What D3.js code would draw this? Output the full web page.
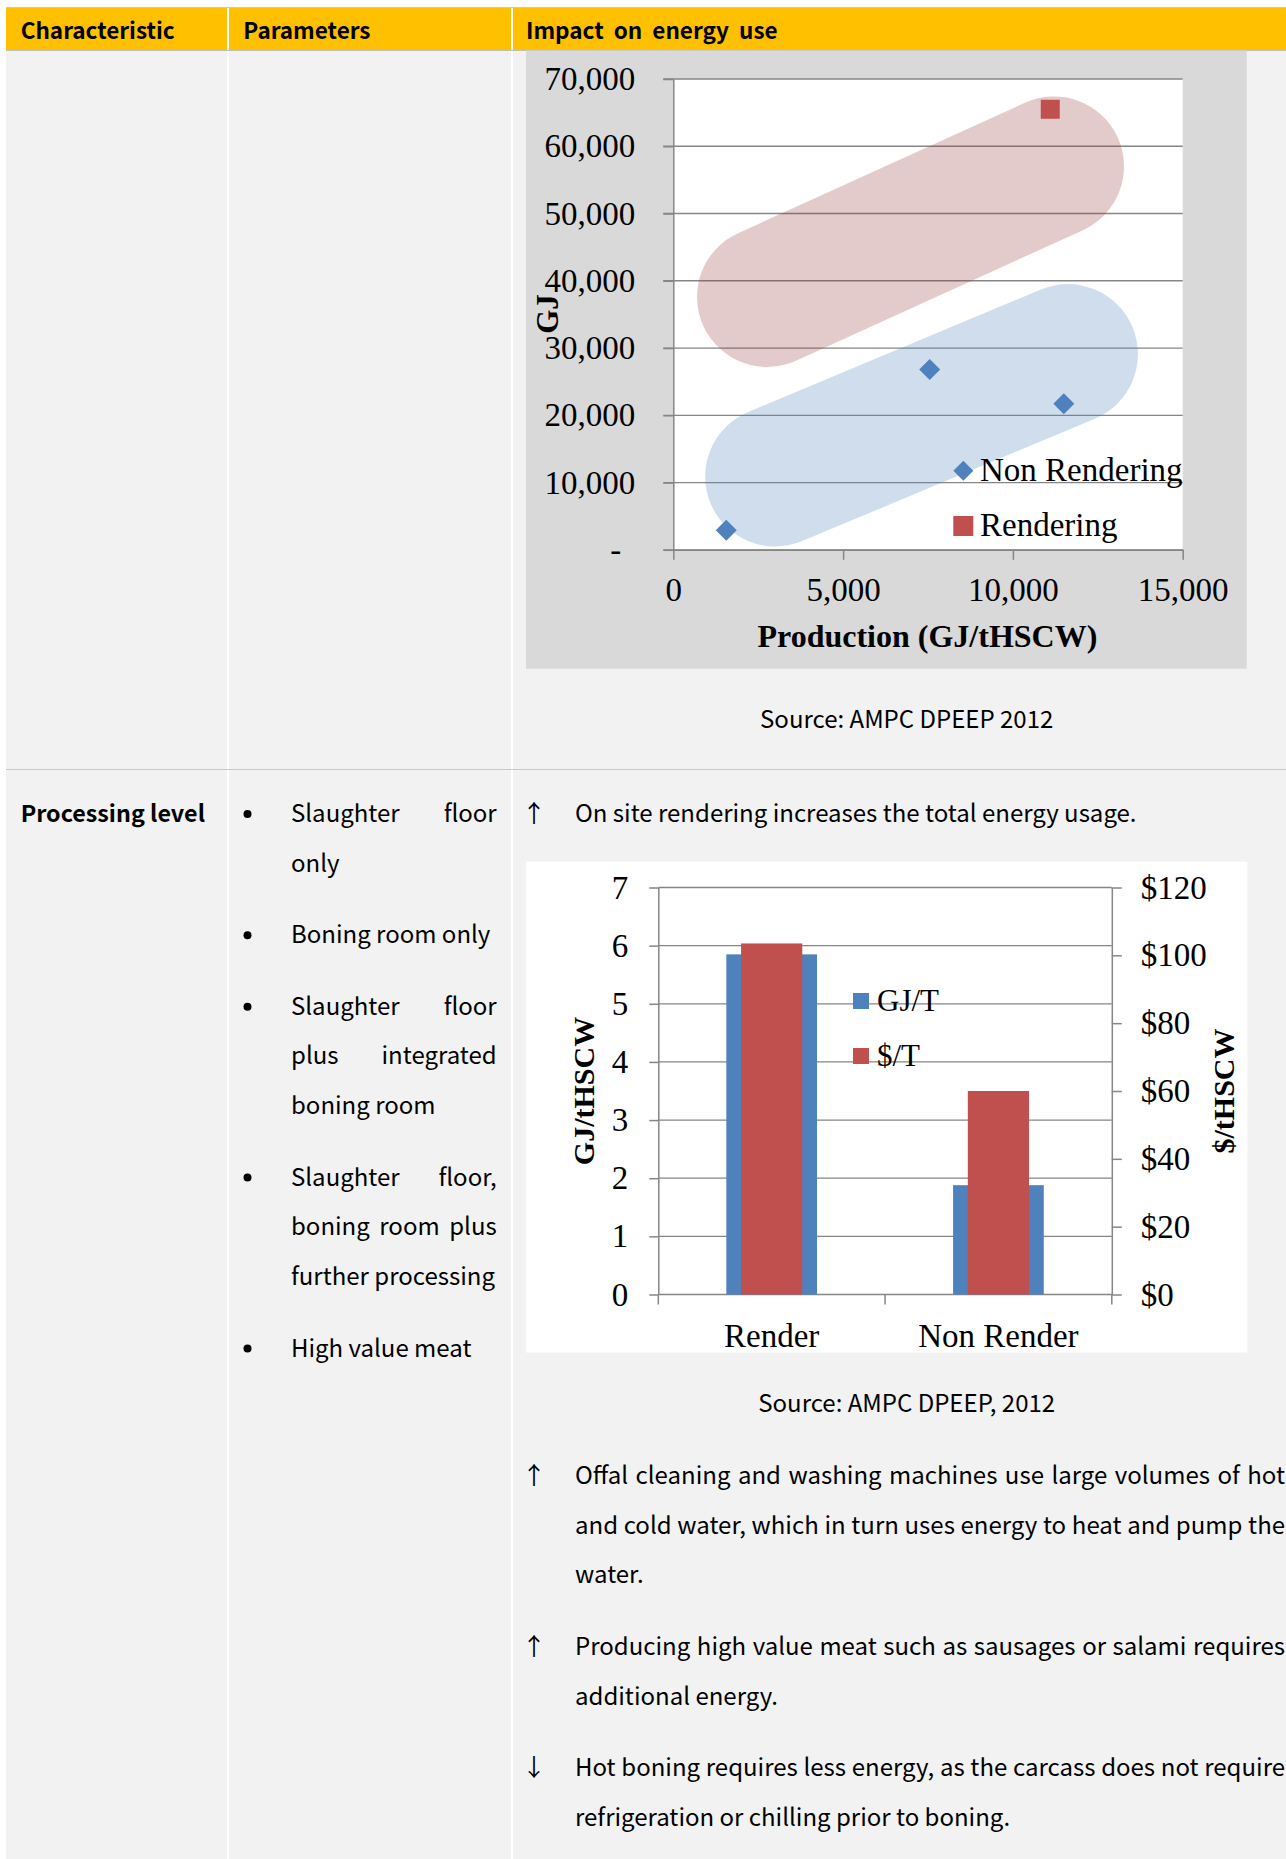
<!DOCTYPE html>
<html>
<head>
<meta charset="utf-8">
<script src="https://cdn.jsdelivr.net/npm/d3@7"></script>
<style>
  html, body { margin: 0; padding: 0; background: #ffffff; }
  svg { display: block; }
</style>
</head>
<body>
<svg id="page" width="1286" height="1859"></svg>
<script>
// ---------- table text ----------
const headerLabels = ["Characteristic", "Parameters", "Impact on energy use"];
const rowTitle = "Processing level";
const parameterParagraphs = [
  ["Slaughter floor", "only"],
  ["Boning room only"],
  ["Slaughter floor", "plus integrated", "boning room"],
  ["Slaughter floor,", "boning room plus", "further processing"],
  ["High value meat"]
];
const introArrow = "↑";
const introLine = "On site rendering increases the total energy usage.";
const impactArrows = ["↑", "↑", "↓"];
const impactParagraphs = [
  ["Offal cleaning and washing machines use large volumes of hot",
   "and cold water, which in turn uses energy to heat and pump the",
   "water."],
  ["Producing high value meat such as sausages or salami requires",
   "additional energy."],
  ["Hot boning requires less energy, as the carcass does not require",
   "refrigeration or chilling prior to boning."]
];
const scatterSource = "Source: AMPC DPEEP 2012";
const barSource = "Source: AMPC DPEEP, 2012";

// ---------- scatter: GJ vs production ----------
const scatterSeries = ["Non Rendering", "Rendering"];
const nonRenderingX = [1560, 7550, 11500];
const nonRenderingY = [2900, 26800, 21700];
const renderingX = [11100];
const renderingY = [65500];
const productionTicks = [0, 5000, 10000, 15000];
const gjTicks = [0, 10000, 20000, 30000, 40000, 50000, 60000, 70000];
// highlighted bands (end points of each band's centre line)
const renderingBandX = [2760, 11210];
const renderingBandY = [37600, 57000];
const nonRenderingBandX = [3000, 11620];
const nonRenderingBandY = [10900, 29100];

// ---------- bars: render vs non render ----------
const barCategories = ["Render", "Non Render"];
const barSeries = ["GJ/T", "$/T"];
const gjPerTonne = [5.85, 1.88];
const dollarsPerTonne = [103.5, 60];
const gjBarTicks = [0, 1, 2, 3, 4, 5, 6, 7];
const dollarTicks = [0, 20, 40, 60, 80, 100, 120];

// ---------- styles ----------
const SERIF = "'Liberation Serif', 'Times New Roman', serif";
const SANS = "'Noto Sans CJK KR', 'Noto Sans', sans-serif";
const GRID = "#868686";
const BLUE = "#4f81bd";
const RED = "#c0504d";
const BODY_SIZE = 24;
const LINE_STEP = 49.7;
const PARA_STEP = 71.5;

const svg = d3.select("#page");

// ---------- table frame ----------
const frame = svg.append("g");
frame.append("rect").attr("x", 6).attr("y", 8).attr("width", 1280).attr("height", 1851).attr("fill", "#f2f2f2");
frame.append("rect").attr("x", 6).attr("y", 8).attr("width", 1280).attr("height", 42).attr("fill", "#ffc000");
[227, 511].forEach(x => {
  frame.append("rect").attr("x", x).attr("y", 8).attr("width", 2).attr("height", 1851).attr("fill", "#ffffff");
});
[[7.5, "#c8c8c8"], [50.5, "#bfbfbf"], [769.5, "#c8c8c8"]].forEach(([y, c]) => {
  frame.append("line").attr("x1", 6).attr("x2", 1286).attr("y1", y).attr("y2", y)
    .attr("stroke", c).attr("stroke-width", 1);
});

const headerX = [20.7, 243.3, 526];
frame.append("g")
  .attr("font-family", SANS).attr("font-size", 22.5).attr("font-weight", 700).attr("fill", "#000")
  .style("word-spacing", "5px")
  .selectAll("text").data(headerLabels).join("text")
  .attr("x", (d, i) => headerX[i]).attr("y", 39.3).text(d => d);

// ---------- text helpers ----------
function placeLine(g, str, x0, y, x1, justify) {
  const words = str.split(" ");
  if (!justify || words.length < 2) {
    g.append("text").attr("x", x0).attr("y", y).text(str);
    return;
  }
  const nodes = words.map(w => g.append("text").attr("y", y).text(w));
  const widths = nodes.map(n => n.node().getComputedTextLength());
  const gap = Math.max(4, (x1 - x0 - d3.sum(widths)) / (words.length - 1));
  let x = x0;
  nodes.forEach((n, i) => { n.attr("x", x); x += widths[i] + gap; });
}

function placeParagraphs(g, paragraphs, x0, x1, y0, markerFn) {
  let y = y0;
  paragraphs.forEach((lines, p) => {
    if (markerFn) markerFn(p, y);
    lines.forEach((line, i) => {
      placeLine(g, line, x0, y + i * LINE_STEP, x1, i < lines.length - 1);
    });
    y += (lines.length - 1) * LINE_STEP + PARA_STEP;
  });
}

const body = svg.append("g").attr("font-family", SANS).attr("font-size", BODY_SIZE).attr("fill", "#000");

// row title
body.append("text").attr("x", 20.7).attr("y", 822).attr("font-weight", 700).attr("font-size", 23.3).text(rowTitle);

// parameter bullets
placeParagraphs(body, parameterParagraphs, 291, 496.7, 822, (p, y) => {
  body.append("circle").attr("cx", 247.5).attr("cy", y - 8).attr("r", 4).attr("fill", "#000");
});

// impact texts
body.append("text").attr("x", 522).attr("y", 822).text(introArrow);
placeLine(body, introLine, 575, 822, 1285, false);
placeParagraphs(body, impactParagraphs, 575, 1285, 1484, (p, y) => {
  body.append("text").attr("x", 522).attr("y", y).text(impactArrows[p]);
});

body.append("text").attr("x", 906.7).attr("y", 727.5).attr("text-anchor", "middle").text(scatterSource);
body.append("text").attr("x", 906.7).attr("y", 1412).attr("text-anchor", "middle").text(barSource);

// ---------- scatter chart ----------
const sc = svg.append("g");
sc.append("rect").attr("x", 526).attr("y", 50.5).attr("width", 720.7).attr("height", 618.2).attr("fill", "#d9d9d9");
const sx = d3.scaleLinear().domain([0, 15000]).range([673.3, 1182.7]);
const sy = d3.scaleLinear().domain([0, 70000]).range([549.8, 79]);
sc.append("rect").attr("x", sx(0)).attr("y", sy(70000)).attr("width", sx(15000) - sx(0))
  .attr("height", sy(0) - sy(70000)).attr("fill", "#ffffff");

// horizontal gridlines
sc.append("g").selectAll("line").data(gjTicks).join("line")
  .attr("x1", sx(0) - 10).attr("x2", sx(15000))
  .attr("y1", d => sy(d)).attr("y2", d => sy(d))
  .attr("stroke", GRID).attr("stroke-width", 1.3);

// translucent bands
const bands = [
  { xs: renderingBandX, ys: renderingBandY, color: "#953735", op: 0.26 },
  { xs: nonRenderingBandX, ys: nonRenderingBandY, color: BLUE, op: 0.27 }
];
sc.append("g").selectAll("line").data(bands).join("line")
  .attr("x1", d => sx(d.xs[0])).attr("y1", d => sy(d.ys[0]))
  .attr("x2", d => sx(d.xs[1])).attr("y2", d => sy(d.ys[1]))
  .attr("stroke", d => d.color).attr("stroke-opacity", d => d.op)
  .attr("stroke-width", 140).attr("stroke-linecap", "round");

// axes
const yAxisS = sc.append("g").attr("transform", `translate(${sx(0)},0)`)
  .call(d3.axisLeft(sy).tickValues(gjTicks).tickSize(10).tickSizeOuter(0).tickPadding(28)
    .tickFormat(d => d === 0 ? "-" : d3.format(",")(d)));
const xAxisS = sc.append("g").attr("transform", `translate(0,${sy(0)})`)
  .call(d3.axisBottom(sx).tickValues(productionTicks).tickSize(10).tickSizeOuter(0).tickPadding(18)
    .tickFormat(d3.format(",")));
[yAxisS, xAxisS].forEach(a => {
  a.selectAll("path").attr("stroke", GRID).attr("stroke-width", 1.5);
  a.selectAll("line").attr("stroke", GRID).attr("stroke-width", 1.5);
  a.selectAll("text").attr("font-family", SERIF).attr("font-size", 33).attr("fill", "#000");
});
yAxisS.selectAll(".tick text").filter(d => d === 0).attr("dx", -14);

// markers
const diamond = d3.symbol(d3.symbolSquare, 220);
sc.append("g").selectAll("path").data(nonRenderingX).join("path")
  .attr("d", diamond)
  .attr("transform", (d, i) => `translate(${sx(d)},${sy(nonRenderingY[i])}) rotate(45)`)
  .attr("fill", BLUE);
sc.append("g").selectAll("path").data(renderingX).join("path")
  .attr("d", d3.symbol(d3.symbolSquare, 361))
  .attr("transform", (d, i) => `translate(${sx(d)},${sy(renderingY[i])})`)
  .attr("fill", RED);

// legend
const legS = sc.append("g").attr("font-family", SERIF).attr("font-size", 33).attr("fill", "#000");
const legSY = [470.7, 526];
legS.append("path").attr("d", d3.symbol(d3.symbolSquare, 200))
  .attr("transform", `translate(963.3,${legSY[0]}) rotate(45)`).attr("fill", BLUE);
legS.append("path").attr("d", d3.symbol(d3.symbolSquare, 400))
  .attr("transform", `translate(963.3,${legSY[1]})`).attr("fill", RED);
legS.selectAll("text").data(scatterSeries).join("text")
  .attr("x", 980).attr("y", (d, i) => legSY[i] + 10).text(d => d);

// titles
sc.append("text").attr("x", 927.4).attr("y", 646.7).attr("text-anchor", "middle")
  .attr("font-family", SERIF).attr("font-size", 32).attr("font-weight", 700).text("Production (GJ/tHSCW)");
sc.append("text").attr("transform", "translate(558,314) rotate(-90)").attr("text-anchor", "middle")
  .attr("font-family", SERIF).attr("font-size", 31).attr("font-weight", 700).text("GJ");

// ---------- bar chart ----------
const bc = svg.append("g");
bc.append("rect").attr("x", 526).attr("y", 861.7).attr("width", 721.4).attr("height", 490.8).attr("fill", "#ffffff");
const bx = d3.scaleBand().domain(barCategories).range([658.3, 1111.8]);
const byL = d3.scaleLinear().domain([0, 7]).range([1294.5, 887.5]);
const byR = d3.scaleLinear().domain([0, 120]).range([1294.5, 887.5]);

bc.append("g").selectAll("line").data(gjBarTicks).join("line")
  .attr("x1", bx.range()[0]).attr("x2", bx.range()[1])
  .attr("y1", d => byL(d)).attr("y2", d => byL(d))
  .attr("stroke", GRID).attr("stroke-width", 1.3);

const bw = bx.bandwidth();
bc.append("g").selectAll("rect").data(barCategories).join("rect")
  .attr("x", d => bx(d) + bw * 0.3).attr("width", bw * 0.4)
  .attr("y", (d, i) => byL(gjPerTonne[i])).attr("height", (d, i) => byL(0) - byL(gjPerTonne[i]))
  .attr("fill", BLUE);
bc.append("g").selectAll("rect").data(barCategories).join("rect")
  .attr("x", d => bx(d) + bw * 0.365).attr("width", bw * 0.27)
  .attr("y", (d, i) => byR(dollarsPerTonne[i])).attr("height", (d, i) => byR(0) - byR(dollarsPerTonne[i]))
  .attr("fill", RED);

const yAxisL = bc.append("g").attr("transform", `translate(${bx.range()[0]},0)`)
  .call(d3.axisLeft(byL).tickValues(gjBarTicks).tickSize(9).tickSizeOuter(0).tickPadding(21)
    .tickFormat(d3.format("d")));
const yAxisR = bc.append("g").attr("transform", `translate(${bx.range()[1]},0)`)
  .call(d3.axisRight(byR).tickValues(dollarTicks).tickSize(10).tickSizeOuter(0).tickPadding(19)
    .tickFormat(d => "$" + d));
const xAxisB = bc.append("g").attr("transform", `translate(0,${byL(0)})`)
  .call(d3.axisBottom(bx).tickSize(0).tickPadding(29));
xAxisB.select(".domain").remove();
const edges = barCategories.map(c => bx(c)).concat([bx.range()[1]]);
bc.append("g").selectAll("line").data(edges).join("line")
  .attr("x1", d => d).attr("x2", d => d).attr("y1", byL(0)).attr("y2", byL(0) + 10)
  .attr("stroke", GRID).attr("stroke-width", 1.5);
[yAxisL, yAxisR, xAxisB].forEach(a => {
  a.selectAll("path").attr("stroke", GRID).attr("stroke-width", 1.5);
  a.selectAll("line").attr("stroke", GRID).attr("stroke-width", 1.5);
  a.selectAll("text").attr("font-family", SERIF).attr("font-size", 33).attr("fill", "#000");
});

// legend
const legB = bc.append("g").attr("font-family", SERIF).attr("font-size", 31).attr("fill", "#000");
const legBY = [1001, 1056];
const legBColors = [BLUE, RED];
legB.selectAll("rect").data(barSeries).join("rect")
  .attr("x", 853).attr("y", (d, i) => legBY[i] - 8).attr("width", 16).attr("height", 16)
  .attr("fill", (d, i) => legBColors[i]);
legB.selectAll("text").data(barSeries).join("text")
  .attr("x", 877).attr("y", (d, i) => legBY[i] + 10).text(d => d);

// axis titles
bc.append("text").attr("transform", "translate(594,1091) rotate(-90)").attr("text-anchor", "middle")
  .attr("font-family", SERIF).attr("font-size", 30).attr("font-weight", 700).text("GJ/tHSCW");
bc.append("text").attr("transform", "translate(1234,1091) rotate(-90)").attr("text-anchor", "middle")
  .attr("font-family", SERIF).attr("font-size", 30).attr("font-weight", 700).text("$/tHSCW");
</script>
</body>
</html>
